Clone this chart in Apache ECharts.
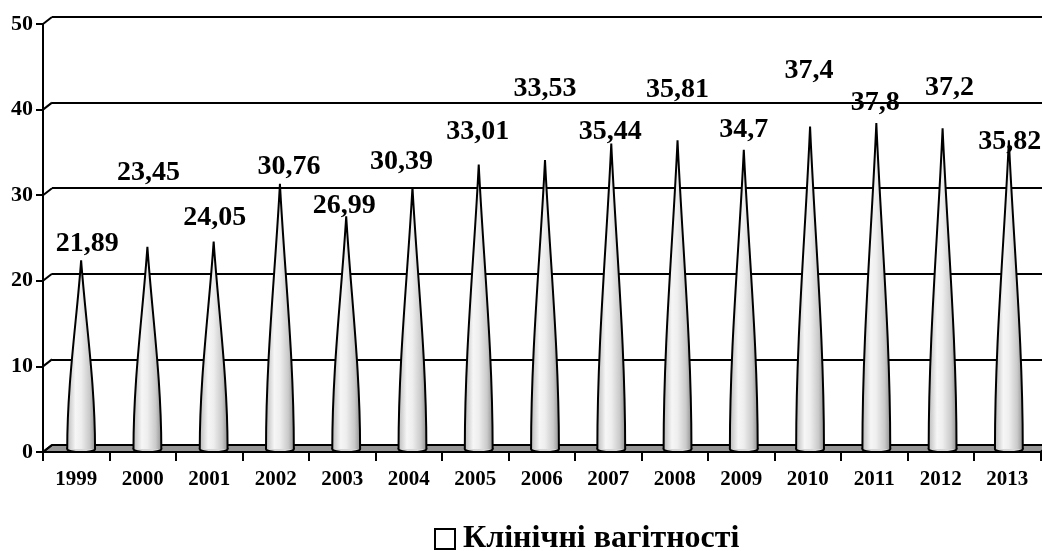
<!DOCTYPE html>
<html>
<head>
<meta charset="utf-8">
<script src="https://cdn.jsdelivr.net/npm/echarts@6/dist/echarts.min.js"></script>
<style>
html,body{margin:0;padding:0;background:#fff;}
#chart{width:1042px;height:551px;}
</style>
</head>
<body>
<div id="chart"></div>
<script>
// ---- data ----
var categories = ['1999','2000','2001','2002','2003','2004','2005','2006','2007','2008','2009','2010','2011','2012','2013'];
var values = [21.89, 23.45, 24.05, 30.76, 26.99, 30.39, 33.01, 33.53, 35.44, 35.81, 34.7, 37.4, 37.8, 37.2, 35.82];
var seriesName = 'Клінічні вагітності';
var yMin = 0, yMax = 50, yInterval = 10;
var yTickValues = [0, 10, 20, 30, 40, 50];

// ---- layout (label placement, like manually moved Excel labels) ----
var labelDx = [6, 1, 1, 9, -2, -11, -1, 0, -1, 0, 0, -1, -1, 7, 1];
var labelDy = [-17, -74, -24, -17, -11, -25, -33, -71, -12, -51, -20, -56, -20, -41, 2];
var DEPTH_X = 9, DEPTH_Y = -7;

var FONT = '"Liberation Serif","Times New Roman",serif';

function fmt(v){ return String(v).replace('.', ','); }

var chart = echarts.init(document.getElementById('chart'), null, {renderer:'canvas'});

var coneData = categories.map(function(c, i){ return [c, values[i]]; });

var option = {
  animation: false,
  backgroundColor: '#fff',
  grid: [
    {left: 43, top: 24, width: 997.5, height: 428},   // front
    {left: 52, top: 17, width: 990, height: 428},      // back wall
    {left: 48, top: 18, width: 997.5, height: 431}     // cones (middle depth)
  ],
  xAxis: [
    {gridIndex:0, type:'category', data: categories, boundaryGap:true,
     axisLine:{show:true, lineStyle:{color:'#000', width:2}},
     axisTick:{show:true, alignWithLabel:false, length:9, lineStyle:{color:'#000', width:2}},
     axisLabel:{color:'#000', fontFamily:FONT, fontWeight:'bold', fontSize:21, margin:17, interval:0},
     splitLine:{show:false}},
    {gridIndex:1, type:'category', data: categories, show:false},
    {gridIndex:2, type:'category', data: categories, show:false}
  ],
  yAxis: [
    {gridIndex:0, type:'value', min:yMin, max:yMax, interval:yInterval,
     axisLine:{show:true, lineStyle:{color:'#000', width:2}},
     axisTick:{show:true, length:7, lineStyle:{color:'#000', width:2}},
     axisLabel:{color:'#000', fontFamily:FONT, fontWeight:'bold', fontSize:22, margin:10},
     splitLine:{show:false}},
    {gridIndex:1, type:'value', min:yMin, max:yMax, interval:yInterval,
     axisLine:{show:false}, axisTick:{show:false}, axisLabel:{show:false},
     splitLine:{show:true, lineStyle:{color:'#000', width:2}}},
    {gridIndex:2, type:'value', min:yMin, max:yMax, interval:yInterval, show:false,
     splitLine:{show:false}}
  ],
  legend: {
    data: [seriesName],
    left: 429, top: 518,
    icon: 'rect', itemWidth: 20, itemHeight: 20, itemGap: 10,
    itemStyle: {color:'#fff', borderColor:'#000', borderWidth:2},
    textStyle: {color:'#000', fontFamily:FONT, fontWeight:'bold', fontSize:32, padding:[0,0,0,3]}
  },
  series: [
    // floor + wall connectors
    {
      type:'custom', xAxisIndex:0, yAxisIndex:0, z:1, silent:true,
      data: [[0, 0]],
      renderItem: function(params, api){
        var cs = params.coordSys;
        var y0 = api.coord([0, yMin])[1];
        var left = cs.x, right = cs.x + cs.width;
        var children = [{
          type:'polygon',
          shape:{points:[[left, y0],[right, y0],[right + DEPTH_X, y0 + DEPTH_Y],[left + DEPTH_X, y0 + DEPTH_Y]]},
          style:{fill:'#969696', stroke:'#000', lineWidth:2}
        }];
        yTickValues.forEach(function(v){
          var y = api.coord([0, v])[1];
          children.push({
            type:'line',
            shape:{x1:left, y1:y, x2:left + DEPTH_X, y2:y + DEPTH_Y},
            style:{stroke:'#000', lineWidth:2}
          });
        });
        return {type:'group', children:children};
      }
    },
    // cones
    {
      name: seriesName,
      type:'custom', xAxisIndex:2, yAxisIndex:2, z:3,
      itemStyle:{color:'#fff', borderColor:'#000', borderWidth:2},
      data: coneData,
      renderItem: function(params, api){
        var idx = params.dataIndex;
        var v = api.value(1);
        var tip = api.coord([api.value(0), v]);
        var base = api.coord([api.value(0), 0]);
        var w = api.size([1, 0])[0] * 0.21;
        var cx = tip[0], ty = tip[1], by = base[1];
        var H = by - ty;
        // cubic side: straight-ish from tip, flaring to near-vertical at base
        var y1 = ty + 0.33 * H, y2 = ty + 0.65 * H;
        var sidePath = 'M' + (cx - w) + ' ' + by +
          ' C' + (cx - w) + ' ' + y2 + ' ' + (cx - 0.33 * w) + ' ' + y1 + ' ' + cx + ' ' + ty +
          ' C' + (cx + 0.33 * w) + ' ' + y1 + ' ' + (cx + w) + ' ' + y2 + ' ' + (cx + w) + ' ' + by;
        var grad = new echarts.graphic.LinearGradient(0, 0, 1, 0, [
          {offset:0, color:'#bcbcbc'},
          {offset:0.3, color:'#f6f6f6'},
          {offset:0.5, color:'#eeeeee'},
          {offset:0.8, color:'#cacaca'},
          {offset:1, color:'#929292'}
        ]);
        return {
          type:'group',
          children:[
            {type:'ellipse', shape:{cx:cx, cy:by, rx:w, ry:3},
             style:{fill:'#d6d6d6', stroke:'#000', lineWidth:2}},
            {type:'path', shape:{pathData: sidePath + ' Z'},
             style:{fill:grad}},
            {type:'path', shape:{pathData: sidePath},
             style:{stroke:'#000', lineWidth:2, fill:null}},
            {type:'text', z2:10,
             style:{text:fmt(values[idx]), x:cx + labelDx[idx], y:ty + labelDy[idx],
                    align:'center', verticalAlign:'middle',
                    font:'bold 28px ' + FONT, fill:'#000'}}
          ]
        };
      }
    }
  ]
};
chart.setOption(option);
</script>
</body>
</html>
